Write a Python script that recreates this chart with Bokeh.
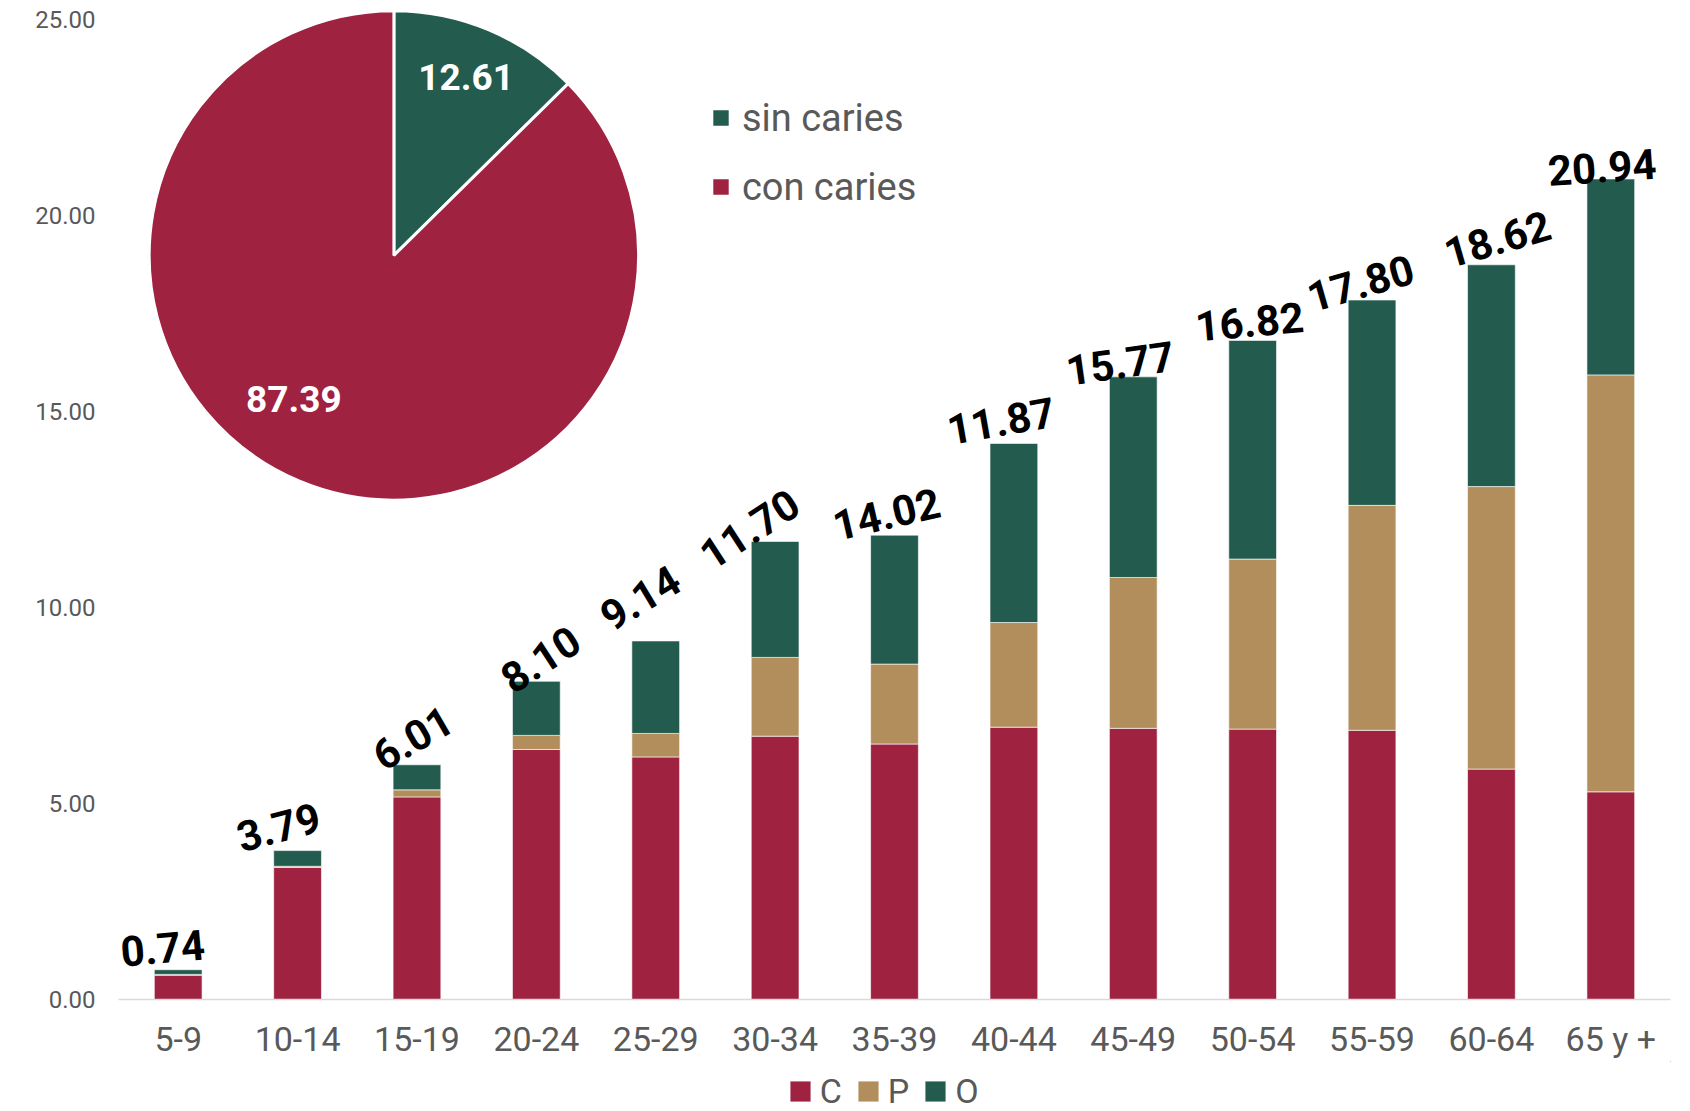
import numpy as np
from bokeh.plotting import figure
from bokeh.layouts import column
from bokeh.models import (ColumnDataSource, Range1d, Legend, LegendItem,
                          NumeralTickFormatter, FixedTicker)
from bokeh.core.properties import value
from bokeh.embed import file_html
from bokeh.resources import INLINE

# ---------------- data ----------------
categories = ["5-9", "10-14", "15-19", "20-24", "25-29", "30-34", "35-39",
              "40-44", "45-49", "50-54", "55-59", "60-64", "65 y +"]
c_values = [0.62, 3.37, 5.17, 6.38, 6.19, 6.72, 6.52, 6.95, 6.92, 6.90, 6.87, 5.88, 5.30]
p_values = [0.02, 0.03, 0.18, 0.36, 0.60, 2.01, 2.04, 2.67, 3.85, 4.34, 5.74, 7.21, 10.64]
o_values = [0.12, 0.40, 0.64, 1.38, 2.36, 2.96, 3.29, 4.57, 5.12, 5.58, 5.24, 5.66, 5.00]
total_labels = ["0.74", "3.79", "6.01", "8.10", "9.14", "11.70", "14.02",
                "11.87", "15.77", "16.82", "17.80", "18.62", "20.94"]
series_names = ["C", "P", "O"]

pie_categories = ["sin caries", "con caries"]
pie_values = [12.61, 87.39]
pie_labels = ["12.61", "87.39"]

y_ticks = [0, 5, 10, 15, 20, 25]

# ---------------- styles ----------------
COL_C = "#9F2241"
COL_P = "#B38E5D"
COL_O = "#235B4E"
GRAY = "#595959"
series_colors = [COL_C, COL_P, COL_O]

# label styling (angle in degrees, offsets in screen px)
label_angles = [5, 15, 30, 33, 31, 33, 13, 10, 8, 5, 16, 16, 4]
label_dx = [-15.5, -19, -4.2, 4.2, -15.5, -25.5, -8, -12.9, -13.2, -3.1, -11.5, 6, -8.8]
label_dy = [-21.7, -23.5, -27, -22, -43, -12.3, -21.1, -22.6, -13.6, -18.6, -17, -25.6, -11.6]

pie_label_rfrac = [0.788, 0.715]
pie_label_shift_deg = [0.7, -12.2]

W = 1690
H_MAIN, H_LEG = 1061, 50
BL, BR, BT, BB = 118, 20, 2, 60
FRAME_W = W - BL - BR
FRAME_H = H_MAIN - BT - BB
UNIT = 39.264  # px per y unit
PIE_R = 244.7
PIE_CX, PIE_CY = 275.4, 745.6  # pie centre relative to frame bottom-left (px)

# category slots on a numeric axis (one unit per category)
xs = (np.arange(len(categories)) + 0.5).tolist()

# ---------------- main figure ----------------
p = figure(x_range=Range1d(0, len(categories)),
           y_range=Range1d(0, FRAME_H / UNIT),
           width=W, height=H_MAIN, output_backend="svg", toolbar_location=None,
           min_border_left=BL, min_border_right=BR, min_border_top=BT, min_border_bottom=BB,
           background_fill_color="white", border_fill_color="white")
p.outline_line_color = None
p.xgrid.grid_line_color = None
p.ygrid.grid_line_color = None

p.extra_x_ranges = {"pie_x": Range1d(-PIE_CX, FRAME_W - PIE_CX)}
p.extra_y_ranges = {"pie_y": Range1d(-PIE_CY, FRAME_H - PIE_CY)}

# stacked bars
src = ColumnDataSource(dict(x=xs, cat=categories, C=c_values, P=p_values, O=o_values))
bar_rs = p.vbar_stack(series_names, x="x", width=0.4, color=series_colors,
                      source=src, line_color="white", line_width=1, line_alpha=0.6)

# total labels
totals = (np.array(c_values) + np.array(p_values) + np.array(o_values)).tolist()
lab_src = ColumnDataSource(dict(x=xs, y=totals, text=total_labels,
                                angle=np.deg2rad(label_angles).tolist(),
                                dx=label_dx, dy=label_dy))
p.text(x="x", y="y", text="text", angle="angle", x_offset="dx", y_offset="dy",
       source=lab_src, text_align="center", text_baseline="middle",
       text_font=value("Roboto"), text_font_style="bold", text_font_size="42px",
       text_color="black")

# pie
fr = np.array(pie_values) / np.sum(pie_values)
cum = np.concatenate([[0], np.cumsum(fr)])
start = (np.pi / 2 - 2 * np.pi * cum[:-1]).tolist()
end = (np.pi / 2 - 2 * np.pi * cum[1:]).tolist()
mid = (np.array(start) + np.array(end)) / 2 + np.deg2rad(pie_label_shift_deg)
pie_src = ColumnDataSource(dict(
    x=[0.0] * len(pie_values), y=[0.0] * len(pie_values),
    start=start, end=end, color=[COL_O, COL_C], name=pie_categories,
    lx=(np.array(pie_label_rfrac) * PIE_R * np.cos(mid)).tolist(),
    ly=(np.array(pie_label_rfrac) * PIE_R * np.sin(mid)).tolist(),
    label=pie_labels))
pie_r = p.wedge(x="x", y="y", radius=PIE_R, radius_units="screen",
                start_angle="start", end_angle="end", direction="clock",
                fill_color="color", line_color="white", line_width=3,
                source=pie_src, x_range_name="pie_x", y_range_name="pie_y")
p.text(x="lx", y="ly", text="label", source=pie_src,
       x_range_name="pie_x", y_range_name="pie_y",
       text_align="center", text_baseline="middle",
       text_font=value("Roboto"), text_font_style="bold", text_font_size="37px",
       text_color="white")

# axes
p.xaxis.ticker = FixedTicker(ticks=xs)
p.xaxis.major_label_overrides = {x: c for x, c in zip(xs, categories)}
p.xaxis.axis_line_color = "#d9d9d9"
p.xaxis.axis_line_width = 1.5
p.xaxis.major_tick_line_color = None
p.xaxis.minor_tick_line_color = None
p.xaxis.major_tick_out = 0
p.xaxis.major_tick_in = 0
p.xaxis.minor_tick_out = 0
p.xaxis.major_label_text_font = "Roboto"
p.xaxis.major_label_text_font_size = "34px"
p.xaxis.major_label_text_color = GRAY
p.xaxis.major_label_standoff = 19

p.yaxis.axis_line_color = None
p.yaxis.major_tick_line_color = None
p.yaxis.minor_tick_line_color = None
p.yaxis.major_tick_out = 0
p.yaxis.major_tick_in = 0
p.yaxis.minor_tick_out = 0
p.yaxis.ticker = FixedTicker(ticks=y_ticks)
p.yaxis.formatter = NumeralTickFormatter(format="0.00")
p.yaxis.major_label_text_font = "Roboto"
p.yaxis.major_label_text_font_size = "24px"
p.yaxis.major_label_text_color = GRAY
p.yaxis.major_label_standoff = 23

# pie legend (inside the plot area)
pie_legend = Legend(items=[LegendItem(label=pie_categories[0], renderers=[pie_r], index=0),
                           LegendItem(label=pie_categories[1], renderers=[pie_r], index=1)],
                    location=(590.9, 790.5), orientation="vertical",
                    padding=0, spacing=25, glyph_width=23, glyph_height=23,
                    label_standoff=10, label_text_font="Roboto",
                    label_text_font_size="38px", label_text_color=GRAY,
                    border_line_color=None, background_fill_alpha=0)
p.add_layout(pie_legend)

# ---------------- bottom legend strip ----------------
# the same stacked series drawn on a strip whose ranges lie away from the data,
# so only their legend entries show
q = figure(x_range=Range1d(-100, -99), y_range=Range1d(-100, -99),
           width=W, height=H_LEG,
           output_backend="svg", toolbar_location=None,
           x_axis_location=None, y_axis_location=None,
           min_border_left=0, min_border_right=0, min_border_top=0, min_border_bottom=0,
           background_fill_color="white", border_fill_color="white")
q.outline_line_color = None
q.xgrid.grid_line_color = None
q.ygrid.grid_line_color = None
legend_rs = q.vbar_stack(series_names, x="x", width=0.4, color=series_colors,
                         source=src, line_color="white", line_width=1, line_alpha=0.6)
bar_legend = Legend(items=[LegendItem(label=n, renderers=[r]) for n, r in zip(series_names, legend_rs)],
                    location=(668.7, 0), orientation="horizontal",
                    padding=0, spacing=13, glyph_width=26, glyph_height=26,
                    label_standoff=7, label_text_font="Roboto",
                    label_text_font_size="34px", label_text_color=GRAY,
                    border_line_color=None, background_fill_alpha=0)
q.add_layout(bar_legend)

layout = column(p, q, spacing=0)
open("out.html", "w").write(file_html(layout, INLINE))
